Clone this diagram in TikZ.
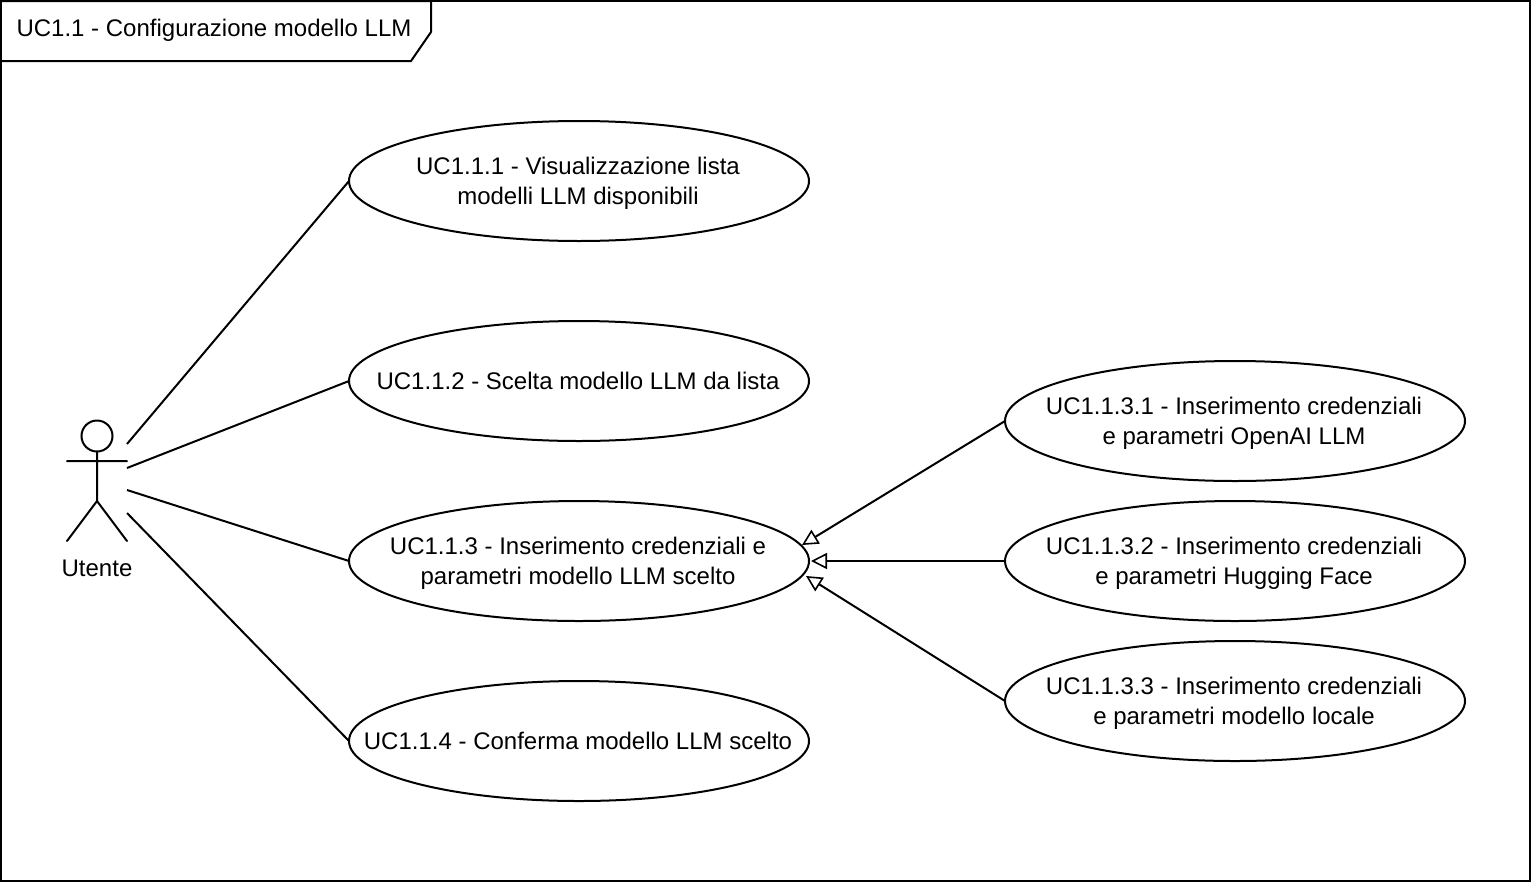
\documentclass[tikz,border=0pt]{standalone}
\usepackage{fontspec}
\setmainfont{Liberation Sans}
\usetikzlibrary{shapes.geometric,arrows.meta}
\newcommand{\uctext}[1]{\makebox[0pt][c]{\raisebox{-4pt}[0pt][0pt]{\begin{tabular}{@{}c@{}}#1\end{tabular}}\kern1pt}}
\tikzset{
  x=0.5pt,y=-0.5pt,
  every node/.style={font=\fontsize{12}{15}\selectfont,text=black},
  line/.style={draw=black,line width=1pt},
  usecase/.style={line,ellipse,minimum width=230pt,minimum height=60pt,inner sep=0pt,outer sep=0pt},
  assoc/.style={line},
  general/.style={line,-{Triangle[open,length=8pt,width=8pt,line width=0.8pt]}},
  stick/.style={line,line cap=round}
}
\begin{document}
\begin{tikzpicture}
\useasboundingbox (0,0) rectangle (1534,884);
% frame
\draw[line] (1,1) rectangle (1530,881);
\draw[line] (1,1) -- (431,1) -- (431,32) -- (411,61) -- (1,61);
\node[anchor=center] (title) at (214,30) {UC1.1 - Configurazione modello LLM};
% actor
\draw[line] (97,436) circle (7.75pt);
\draw[stick] (97,451.5) -- (97,501) (67,461) -- (127,461) (67,541) -- (97,501) -- (127,541);
\node (utente) at (97,568) {Utente};
\coordinate (a1) at (127,444);
\coordinate (a2) at (127,468);
\coordinate (a3) at (127,490);
\coordinate (a4) at (127,513);
% use cases
\node[usecase] (u1) at (579,181) {\uctext{UC1.1.1 - Visualizzazione lista\\modelli LLM disponibili}};
\node[usecase] (u2) at (579,381) {\uctext{UC1.1.2 - Scelta modello LLM da lista}};
\node[usecase] (u3) at (579,561) {\uctext{UC1.1.3 - Inserimento credenziali e\\parametri modello LLM scelto}};
\node[usecase] (u4) at (579,741) {\uctext{UC1.1.4 - Conferma modello LLM scelto}};
\node[usecase] (s1) at (1235,421) {\uctext{UC1.1.3.1 - Inserimento credenziali\\e parametri OpenAI LLM}};
\node[usecase] (s2) at (1235,561) {\uctext{UC1.1.3.2 - Inserimento credenziali\\e parametri Hugging Face}};
\node[usecase] (s3) at (1235,701) {\uctext{UC1.1.3.3 - Inserimento credenziali\\e parametri modello locale}};
% associations
\draw[assoc] (a1) -- (u1.west);
\draw[assoc] (a2) -- (u2.west);
\draw[assoc] (a3) -- (u3.west);
\draw[assoc] (a4) -- (u4.west);
% generalisations
\coordinate (t1) at (802,545);
\coordinate (t2) at (811,561);
\coordinate (t3) at (806,576);
\draw[general] (s1.west) -- (t1);
\draw[general] (s2.west) -- (t2);
\draw[general] (s3.west) -- (t3);
\end{tikzpicture}
\end{document}
